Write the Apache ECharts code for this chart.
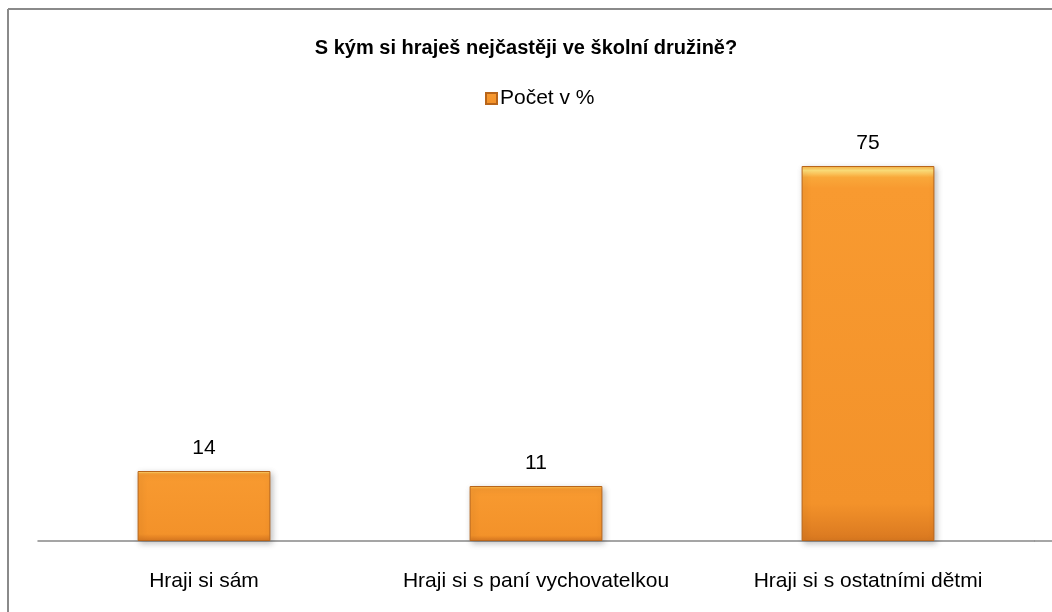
<!DOCTYPE html>
<html>
<head>
<meta charset="utf-8">
<script src="https://cdn.jsdelivr.net/npm/echarts@6/dist/echarts.min.js"></script>
<style>
  html, body { margin: 0; padding: 0; background: #fff; }
  #chart { width: 1052px; height: 612px; }
</style>
</head>
<body>
<div id="chart"></div>
<script>
// data
var categories = ["Hraji si sám", "Hraji si s paní vychovatelkou", "Hraji si s ostatními dětmi"];
var values = [14, 11, 75];
var seriesName = "Počet v %";
var titleText = "S kým si hraješ nejčastěji ve školní družině?";

var font = "Liberation Sans, Arial, sans-serif";

// bevel-ish orange fill
var barFill = new echarts.graphic.LinearGradient(0, 0, 0, 1, [
    {offset: 0, color: '#F9B040'},
    {offset: 0.012, color: '#FFE07A'},
    {offset: 0.03, color: '#F9A83A'},
    {offset: 0.06, color: '#F89A30'},
    {offset: 0.9, color: '#F3922A'},
    {offset: 1, color: '#D97820'}
]);

var dom = document.getElementById("chart");
var myChart = echarts.init(dom);
var option = {
    animation: false,
    backgroundColor: '#fff',
    title: {
        text: titleText,
        left: 'center',
        top: 33,
        textStyle: {
            fontFamily: font,
            fontSize: 20,
            fontWeight: 'bold',
            color: '#000'
        }
    },
    legend: {
        data: [seriesName],
        top: 83,
        left: 480,
        itemWidth: 11,
        itemHeight: 11,
        itemGap: 4,
        icon: 'rect',
        textStyle: {
            fontFamily: font,
            fontSize: 21,
            color: '#000',
            padding: [0, 0, 0, -2]
        }
    },
    grid: {
        left: 38,
        right: 18,
        top: 141,
        height: 400,
        containLabel: false
    },
    xAxis: {
        type: 'category',
        data: categories,
        axisLine: {lineStyle: {color: '#888', width: 1.5}},
        axisTick: {show: false},
        axisLabel: {
            interval: 0,
            fontFamily: font,
            fontSize: 21,
            color: '#000',
            margin: 30
        }
    },
    yAxis: {
        type: 'value',
        min: 0,
        max: 80,
        show: false,
        splitLine: {show: false}
    },
    series: [
        {
            name: seriesName,
            type: 'bar',
            data: values,
            barWidth: '40%',
            itemStyle: {
                color: barFill,
                borderColor: '#B8651A',
                borderWidth: 1,
                shadowBlur: 6,
                shadowOffsetX: 2,
                shadowOffsetY: 2,
                shadowColor: 'rgba(0,0,0,0.25)'
            },
            label: {
                show: true,
                position: 'top',
                distance: 12,
                fontFamily: font,
                fontSize: 21,
                color: '#000'
            }
        }
    ],
    graphic: [
        {
            type: 'line',
            shape: {x1: 8, y1: 9, x2: 1052, y2: 9},
            style: {stroke: '#8a8a8a', lineWidth: 2}
        },
        {
            type: 'line',
            shape: {x1: 8, y1: 9, x2: 8, y2: 612},
            style: {stroke: '#8a8a8a', lineWidth: 2}
        },
        {
            type: 'line',
            shape: {x1: 1034, y1: 541, x2: 1052, y2: 541},
            style: {stroke: '#888', lineWidth: 1.5}
        }
    ]
};
myChart.setOption(option);
</script>
</body>
</html>
